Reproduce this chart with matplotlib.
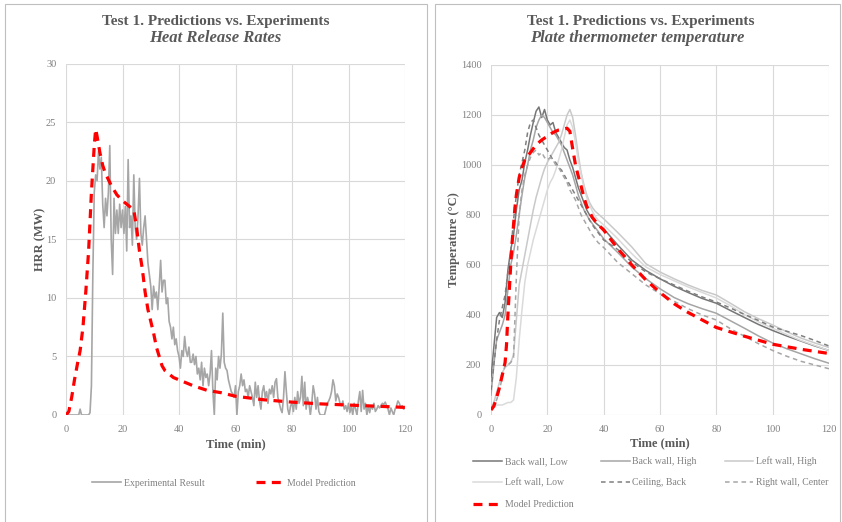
import numpy as np
import matplotlib
matplotlib.use('Agg')
import matplotlib.pyplot as plt
from matplotlib.patches import Rectangle

plt.rcParams['font.family'] = ['Liberation Serif', 'DejaVu Serif']

# ---------------- left chart: heat release rate ----------------
# experimental HRR, sampled every 0.5 min from 0 to 120 min (MW)
hrr_exp = [
    0, 0, 0, 0, 0, 0, 0, 0, 0, 0, 0.5, 0, 0, 0, 0, 0, 0, 0.2, 2.5, 12,
    19, 20.5, 20, 22.5, 21, 22, 18, 16, 18.5, 17, 19, 23, 15, 12, 18.5, 15.5, 17.5, 15.5, 18, 16,
    17.5, 15.5, 17.8, 14, 21.8, 16, 17, 14.5, 20.5, 16, 15, 17, 20.2, 15.5, 14.5, 16, 17, 15, 13, 12,
    11, 9, 11, 10, 10.5, 9, 11, 13.2, 10.5, 11.5, 11.5, 9.5, 10, 8, 7.5, 6.5, 7.5, 6, 6.5, 5.5,
    5, 4, 5.5, 5, 6.7, 5.5, 5, 5.8, 4.5, 4.5, 5.2, 4.3, 5, 3.5, 4, 3, 4.5, 2.5, 4, 3.2,
    3.5, 2.5, 3.5, 5.5, 2, 0, 4, 3, 5, 4, 5.2, 8.7, 4.5, 4, 3.8, 3, 2.5, 2, 1.8, 1.5,
    2.5, 0, 2, 2.5, 3.5, 2.5, 3, 2, 2.2, 1.5, 2.5, 2, 1.5, 0.8, 2.8, 1.5, 2.5, 1.2, 0.5, 2,
    2.5, 1.5, 2, 1, 2.2, 1.8, 2.5, 1.5, 2.8, 3.1, 1.5, 1, 0.5, 0.2, 1.5, 3.7, 2, 0.5, 0, 0.8,
    1, 0.3, 1.5, 0.5, 2, 1, 1.5, 3.3, 0.8, 2.8, 0.5, 1.5, 1, 0, 1, 2.5, 1.8, 0.5, 1.5, 0.3,
    0, 0, 0, 0, 0.5, 1, 1.2, 1.5, 2, 3, 2.5, 1.2, 1.8, 1.5, 1, 0.8, 1.2, 0.5, 0.8, 0.3,
    1, 0.2, 0.8, 0, 1, 0.5, 0, 1.2, 2, 0.3, 2.1, 0.5, 1, 0, 0.8, 0.2, 0.8, 0.5, 1, 0.3,
    0.5, 0.8, 0.6, 0.8, 1, 0.9, 1.1, 0.8, 0.5, 0, 0.6, 0.3, 0, 0.5, 0.8, 1.2, 1, 0.6, 0.8, 0.5,
    0.6,
]
hrr_exp_time = np.arange(len(hrr_exp)) * 0.5

hrr_model_time = [0, 1, 2, 3, 4, 5, 6, 7, 8, 9, 10, 10.5, 11, 12, 13, 14, 16, 18, 20, 22,
                  24, 25, 26, 27, 28, 29, 30, 31, 32, 33, 34, 35, 36, 38, 40, 45, 50, 55, 60, 70,
                  80, 90, 100, 110, 120]
hrr_model = [0, 0.3, 1.5, 3, 4.3, 5.5, 7.5, 10.5, 14, 19, 23, 24.4, 23.8, 22.4, 21.3, 20.6, 19.6, 18.8, 18.3, 17.9,
             17.5, 16, 14, 12.5, 10.5, 9, 8, 7, 5.8, 5, 4.2, 3.8, 3.6, 3.2, 3, 2.5, 2.1, 1.9, 1.6, 1.3,
             1.1, 0.95, 0.85, 0.75, 0.65]

# ---------------- right chart: plate thermometer temperature ----------------
temp_time = list(range(0, 41)) + list(range(45, 121, 5))

back_wall_low = [150, 270, 390, 410, 390, 450, 580, 660, 720, 820,
                 900, 940, 1010, 1060, 1120, 1170, 1215, 1232, 1190, 1222,
                 1180, 1160, 1170, 1130, 1110, 1090, 1070, 1060, 1020, 990,
                 950, 910, 880, 850, 820, 800, 785, 770, 760, 752, 745,
                 680, 620, 578, 545, 515, 490, 466, 447, 418, 390, 362, 338, 316, 296, 276, 258]
back_wall_high = [80, 200, 300, 330, 360, 400, 500, 600, 650, 720,
                  800, 880, 950, 1000, 1060, 1100, 1150, 1180, 1200, 1190,
                  1170, 1150, 1130, 1120, 1100, 1080, 1050, 1020, 990, 960,
                  920, 880, 850, 820, 800, 780, 765, 750, 735, 720, 705,
                  650, 592, 545, 505, 470, 445, 425, 407, 377, 347, 316, 288, 265, 245, 225, 207]
left_wall_high = [30, 50, 90, 130, 170, 190, 200, 210, 240, 380,
                  520, 580, 640, 700, 760, 820, 870, 910, 950, 985,
                  1010, 1030, 1050, 1070, 1090, 1120, 1160, 1200, 1222, 1190,
                  1120, 1040, 970, 920, 880, 850, 830, 815, 805, 795, 785,
                  730, 672, 605, 572, 545, 520, 498, 480, 447, 413, 385, 360, 333, 308, 288, 270]
left_wall_low = [30, 35, 40, 40, 40, 45, 50, 50, 60, 150,
                 300, 420, 530, 600, 650, 700, 740, 780, 820, 860,
                 900, 930, 950, 980, 1020, 1060, 1110, 1160, 1180, 1150,
                 1090, 1020, 960, 910, 870, 840, 815, 795, 780, 770, 760,
                 705, 645, 592, 562, 537, 512, 490, 468, 437, 402, 372, 347, 322, 298, 278, 258]
ceiling_back = [100, 200, 300, 380, 430, 480, 570, 650, 780, 880,
                960, 1010, 1060, 1130, 1170, 1180, 1150, 1120, 1100, 1080,
                1060, 1040, 1020, 1010, 990, 980, 960, 940, 920, 900,
                880, 860, 840, 820, 800, 780, 760, 745, 730, 715, 700,
                662, 612, 572, 545, 520, 495, 472, 452, 428, 402, 378, 352, 335, 318, 298, 276]
right_wall_center = [30, 40, 60, 100, 150, 200, 200, 210, 230, 550,
                     800, 900, 960, 1000, 1030, 1050, 1060, 1040, 1050, 1030,
                     1020, 1030, 1020, 1000, 990, 970, 950, 930, 900, 880,
                     860, 830, 800, 780, 760, 740, 720, 705, 690, 680, 670,
                     610, 565, 520, 485, 455, 425, 400, 380, 345, 315, 285, 258, 235, 215, 200, 185]

model_temp_time = [0, 1, 2, 3, 4, 5, 5.5, 6, 6.5, 7, 7.5, 8, 8.5, 9, 10, 11, 12, 14, 16, 18,
                   20, 22, 24, 26, 27, 28, 29, 30, 31, 32, 33, 34, 36, 38, 40, 45, 50, 55, 60, 65,
                   70, 80, 90, 100, 110, 120]
model_temp = [20, 35, 70, 110, 160, 210, 280, 400, 500, 600, 690, 760, 830, 880, 950, 990, 1020, 1050, 1080, 1100,
              1115, 1130, 1140, 1145, 1147, 1135, 1065, 1000, 955, 915, 870, 835, 790, 762, 740, 665, 600, 540, 490, 445,
              410, 350, 315, 283, 263, 246]

TITLE = 'Test 1. Predictions vs. Experiments'
TEXT_DARK = '#595959'
TEXT_LIGHT = '#808080'
RED_DASH = (0, (2.8, 2.0))
GRAY_DASH = (0, (3.0, 2.4))


def style_axes(ax, ymax, ystep):
    ax.set_xlim(0, 120)
    ax.set_ylim(0, ymax)
    ax.set_xticks(range(0, 121, 20))
    ax.set_yticks(np.arange(0, ymax + 1, ystep))
    ax.grid(True, color='#D9D9D9', lw=0.8)
    ax.set_axisbelow(True)
    for s in ax.spines.values():
        s.set_visible(False)
    ax.tick_params(length=0, labelsize=7.5, colors=TEXT_LIGHT, pad=7)


fig = plt.figure(figsize=(8.42, 5.22), dpi=100)

# panel frames
for x0, x1 in [(5, 427), (435, 840)]:
    fig.patches.append(Rectangle((x0 / 842, -0.01), (x1 - x0) / 842, 1.0062 - 2 / 522,
                                 transform=fig.transFigure, fill=False,
                                 edgecolor='#BFBFBF', lw=0.8))

# ---- left panel
ax1 = fig.add_axes([66 / 842, 1 - 415 / 522, 339 / 842, 351.4 / 522])
style_axes(ax1, 30, 5)
ax1.plot(hrr_exp_time, hrr_exp, color='#A6A6A6', lw=1.2, label='Experimental Result')
ax1.plot(hrr_model_time, hrr_model, color='#FF0000', lw=2.3, ls=RED_DASH, label='Model Prediction')
ax1.set_ylabel('HRR (MW)', fontsize=9, fontweight='bold', color=TEXT_DARK)
ax1.yaxis.set_label_coords((46 - 66) / 339, 0.5)
ax1.set_xlabel('Time (min)', fontsize=9, fontweight='bold', color=TEXT_DARK)
ax1.xaxis.set_label_coords(0.5, (415 - 438) / 351.4)
fig.text(215.5 / 842, 1 - 21 / 522, TITLE, ha='center', va='center',
         fontsize=11, fontweight='bold', color=TEXT_DARK)
fig.text(215.5 / 842, 1 - 38.5 / 522, 'Heat Release Rates', ha='center', va='center',
         fontsize=12, fontweight='bold', style='italic', color=TEXT_DARK)
fig.legend(*ax1.get_legend_handles_labels(), loc='center',
           bbox_to_anchor=(224 / 842, 1 - 483 / 522), ncol=2, frameon=False,
           fontsize=7, labelcolor=TEXT_LIGHT, handlelength=2.9, handletextpad=0.3,
           columnspacing=5.3)

# ---- right panel
ax2 = fig.add_axes([491 / 842, 1 - 415 / 522, 338 / 842, 350 / 522])
style_axes(ax2, 1400, 200)
h_bwl, = ax2.plot(temp_time, back_wall_low, color='#767676', lw=1.1, label='Back wall, Low')
h_bwh, = ax2.plot(temp_time, back_wall_high, color='#A5A5A5', lw=1.1, label='Back wall, High')
h_lwh, = ax2.plot(temp_time, left_wall_high, color='#C9C9C9', lw=1.1, label='Left wall, High')
h_lwl, = ax2.plot(temp_time, left_wall_low, color='#DADADA', lw=1.1, label='Left wall, Low')
h_cb, = ax2.plot(temp_time, ceiling_back, color='#7F7F7F', lw=1.1, ls=GRAY_DASH, label='Ceiling, Back')
h_rwc, = ax2.plot(temp_time, right_wall_center, color='#A6A6A6', lw=1.1, ls=GRAY_DASH,
                  label='Right wall, Center')
h_mp, = ax2.plot(model_temp_time, model_temp, color='#FF0000', lw=2.3, ls=RED_DASH,
                 label='Model Prediction')
ax2.set_ylabel('Temperature (°C)', fontsize=9, fontweight='bold', color=TEXT_DARK)
ax2.yaxis.set_label_coords((460 - 491) / 338, 0.5)
ax2.set_xlabel('Time (min)', fontsize=9, fontweight='bold', color=TEXT_DARK)
ax2.xaxis.set_label_coords(0.5, (415 - 437) / 350)
fig.text(641 / 842, 1 - 21 / 522, TITLE, ha='center', va='center',
         fontsize=11, fontweight='bold', color=TEXT_DARK)
fig.text(637 / 842, 1 - 38.5 / 522, 'Plate thermometer temperature', ha='center', va='center',
         fontsize=12, fontweight='bold', style='italic', color=TEXT_DARK)
handles = [h_bwl, h_lwl, h_mp, h_bwh, h_cb, h_lwh, h_rwc]
fig.legend(handles, [h.get_label() for h in handles], loc='center',
           bbox_to_anchor=(651 / 842, 1 - 482.7 / 522), ncol=3, frameon=False,
           fontsize=7, labelcolor=TEXT_LIGHT, handlelength=2.9, handletextpad=0.3,
           columnspacing=2.9, labelspacing=1.25)

fig.savefig('out.png', dpi=100, facecolor='white')
